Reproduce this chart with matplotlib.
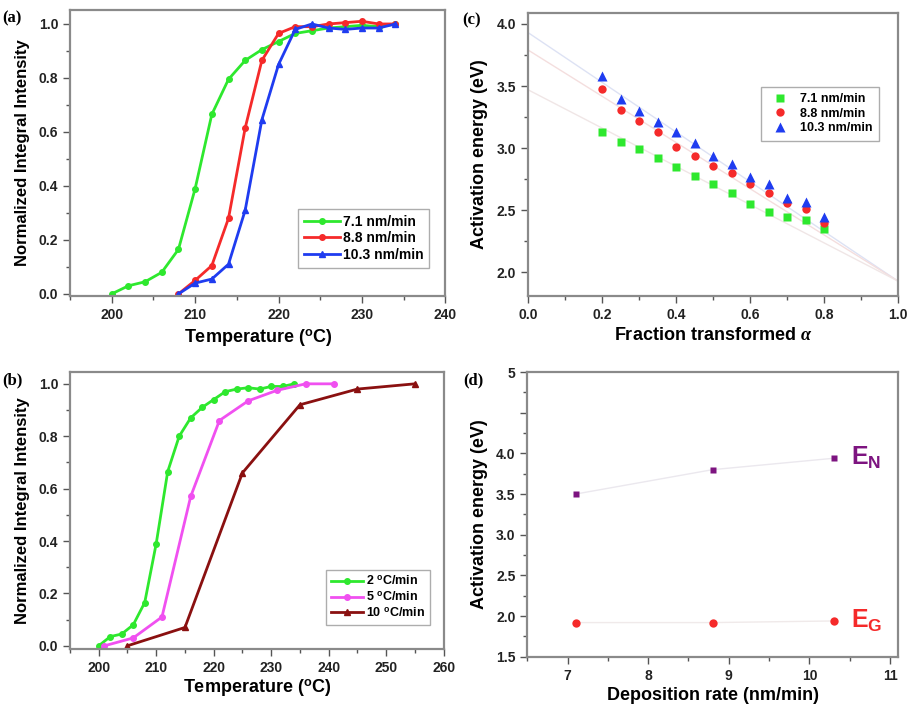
import matplotlib.pyplot as plt
import numpy as np
from matplotlib.ticker import AutoMinorLocator

plt.rcParams['font.family'] = ['Liberation Sans', 'DejaVu Sans']
plt.rcParams['font.weight'] = 'bold'
plt.rcParams['mathtext.fontset'] = 'custom'
plt.rcParams['mathtext.it'] = 'Liberation Serif:italic'
plt.rcParams['mathtext.rm'] = 'Liberation Sans'

# (a) intensity vs temperature for three deposition rates
temp_a = [200, 202, 204, 206, 208, 210, 212, 214, 216, 218, 220, 222, 224, 226, 228, 230, 232, 234]
int_71 = [0.0, 0.03, 0.045, 0.08, 0.165, 0.39, 0.665, 0.795, 0.865, 0.905, 0.935, 0.965, 0.975, 0.985,
          0.99, 0.995, 0.99, 1.0]
temp_a2 = [208, 210, 212, 214, 216, 218, 220, 222, 224, 226, 228, 230, 232, 234]
int_88 = [0.0, 0.05, 0.105, 0.28, 0.615, 0.865, 0.965, 0.99, 0.99, 1.0, 1.005, 1.01, 1.0, 1.0]
int_103 = [0.0, 0.04, 0.055, 0.11, 0.31, 0.645, 0.85, 0.98, 1.0, 0.985, 0.98, 0.985, 0.985, 1.0]

# (b) intensity vs temperature for three heating rates
temp_2 = [200, 202, 204, 206, 208, 210, 212, 214, 216, 218, 220, 222, 224, 226, 228, 230, 232, 234]
int_2 = [0.0, 0.035, 0.045, 0.08, 0.165, 0.39, 0.665, 0.8, 0.87, 0.91, 0.94, 0.97, 0.98, 0.985,
         0.98, 0.99, 0.99, 1.0]
temp_5 = [201, 206, 211, 216, 221, 226, 231, 236, 241]
int_5 = [0.0, 0.03, 0.11, 0.57, 0.86, 0.935, 0.975, 1.0, 1.0]
temp_10 = [205, 215, 225, 235, 245, 255]
int_10 = [0.0, 0.07, 0.66, 0.92, 0.98, 1.0]

# (c) activation energy vs fraction transformed
alpha = [0.2, 0.25, 0.3, 0.35, 0.4, 0.45, 0.5, 0.55, 0.6, 0.65, 0.7, 0.75, 0.8]
ea_71 = [3.13, 3.05, 2.99, 2.92, 2.85, 2.78, 2.71, 2.64, 2.55, 2.49, 2.45, 2.42, 2.35]
ea_88 = [3.48, 3.31, 3.22, 3.13, 3.01, 2.94, 2.86, 2.80, 2.71, 2.64, 2.56, 2.51, 2.40]
ea_103 = [3.58, 3.40, 3.30, 3.21, 3.13, 3.04, 2.94, 2.87, 2.77, 2.71, 2.60, 2.57, 2.45]
fit_x = [0.0, 1.0]
fit_71 = [3.47, 1.93]
fit_88 = [3.79, 1.93]
fit_103 = [3.93, 1.93]

# (d) activation energies vs deposition rate
rate = [7.1, 8.8, 10.3]
e_n = [3.50, 3.80, 3.94]
e_g = [1.92, 1.92, 1.94]

green = '#2ee82e'
red = '#f52a2a'
blue = '#1f3cf0'
magenta = '#f050f0'
brown = '#8a1010'
purple = '#7d1480'
frame = '#8a8a8a'


def style(ax):
    for s in ax.spines.values():
        s.set_color(frame)
        s.set_linewidth(1.6)
    ax.tick_params(which='both', direction='out', color='#555555', labelsize=10, width=1)
    ax.tick_params(which='major', length=5)
    ax.tick_params(which='minor', length=3)
    ax.xaxis.set_minor_locator(AutoMinorLocator(2))
    ax.yaxis.set_minor_locator(AutoMinorLocator(2))
    for lab in ax.get_xticklabels() + ax.get_yticklabels():
        lab.set_fontweight('bold')
        lab.set_color('#222222')


fig = plt.figure(figsize=(9.09, 7.10), dpi=100)

# panel (a)
ax = fig.add_axes([0.077, 0.583, 0.413, 0.403])
ax.plot(temp_a, int_71, '-o', color=green, lw=2, ms=4, label='7.1 nm/min')
ax.plot(temp_a2, int_88, '-o', color=red, lw=2, ms=4, label='8.8 nm/min')
ax.plot(temp_a2, int_103, '-^', color=blue, lw=2, ms=4, label='10.3 nm/min')
ax.set_xlim(195, 240)
ax.set_ylim(-0.008, 1.052)
ax.set_xticks([200, 210, 220, 230, 240])
ax.set_yticks([0.0, 0.2, 0.4, 0.6, 0.8, 1.0])
ax.set_xlabel('Temperature ($^{\\mathrm{o}}$C)', fontsize=13, fontweight='bold', labelpad=4)
ax.set_ylabel('Normalized Integral Intensity', fontsize=12, fontweight='bold', labelpad=6)
ax.legend(loc='lower right', bbox_to_anchor=(0.975, 0.075), frameon=True,
          fancybox=False, edgecolor='#999999', handlelength=2.6, handletextpad=0.2,
          borderpad=0.4, labelspacing=0.2, prop={'weight': 'bold', 'size': 10})
style(ax)
fig.text(0.002, 0.986, '(a)', family='Liberation Serif', fontweight='bold', fontsize=12, va='top')

# panel (c)
ax = fig.add_axes([0.581, 0.583, 0.407, 0.399])
ax.plot(fit_x, fit_103, '-', color='#dde2f4', lw=1, zorder=1)
ax.plot(fit_x, fit_88, '-', color='#f4dede', lw=1, zorder=1)
ax.plot(fit_x, fit_71, '-', color='#f0e6e6', lw=1, zorder=1)
ax.plot(alpha, ea_71, 's', color=green, ms=5.5, mec='none', label='7.1 nm/min')
ax.plot(alpha, ea_88, 'o', color=red, ms=6, mec='none', label='8.8 nm/min')
ax.plot(alpha, ea_103, '^', color=blue, ms=6.5, mec='none', label='10.3 nm/min')
ax.set_xlim(0.0, 1.0)
ax.set_ylim(1.81, 4.09)
ax.set_xticks([0.0, 0.2, 0.4, 0.6, 0.8, 1.0])
ax.set_yticks([2.0, 2.5, 3.0, 3.5, 4.0])
ax.set_xlabel('Fraction transformed $\\mathit{\\alpha}$', fontsize=13, fontweight='bold', labelpad=4)
ax.set_ylabel('Activation energy (eV)', fontsize=13, fontweight='bold', labelpad=6)
ax.legend(loc='upper right', bbox_to_anchor=(0.965, 0.76), frameon=True, fancybox=False,
          edgecolor='#999999', handletextpad=0.6, borderpad=0.5, labelspacing=0.2,
          prop={'weight': 'bold', 'size': 9})
style(ax)
fig.text(0.508, 0.982, '(c)', family='Liberation Serif', fontweight='bold', fontsize=12, va='top')

# panel (b)
ax = fig.add_axes([0.077, 0.086, 0.411, 0.390])
ax.plot(temp_2, int_2, '-o', color=green, lw=2, ms=4, label='2 $^{\\mathrm{o}}$C/min')
ax.plot(temp_5, int_5, '-o', color=magenta, lw=2, ms=4, label='5 $^{\\mathrm{o}}$C/min')
ax.plot(temp_10, int_10, '-^', color=brown, lw=2, ms=4, label='10 $^{\\mathrm{o}}$C/min')
ax.set_xlim(195, 260)
ax.set_ylim(-0.012, 1.045)
ax.set_xticks([200, 210, 220, 230, 240, 250, 260])
ax.set_yticks([0.0, 0.2, 0.4, 0.6, 0.8, 1.0])
ax.set_xlabel('Temperature ($^{\\mathrm{o}}$C)', fontsize=13, fontweight='bold', labelpad=2)
ax.set_ylabel('Normalized Integral Intensity', fontsize=12, fontweight='bold', labelpad=6)
ax.legend(loc='lower right', bbox_to_anchor=(0.98, 0.065), frameon=True, fancybox=False,
          edgecolor='#999999', handlelength=2.6, handletextpad=0.2, borderpad=0.4,
          labelspacing=0.2, prop={'weight': 'bold', 'size': 9})
style(ax)
fig.text(0.002, 0.476, '(b)', family='Liberation Serif', fontweight='bold', fontsize=12, va='top')

# panel (d)
ax = fig.add_axes([0.580, 0.075, 0.408, 0.401])
ax.plot(rate, e_n, '-', color='#ebe8ee', lw=1, zorder=1)
ax.plot(rate, e_g, '-', color='#f0eaea', lw=1, zorder=1)
ax.plot(rate, e_n, 's', color=purple, ms=5, mec='none')
ax.plot(rate, e_g, 'o', color=red, ms=6, mec='none')
ax.text(10.52, e_n[-1], '$\\mathregular{E_N}$', color=purple, fontsize=18, va='center')
ax.text(10.52, e_g[-1], '$\\mathregular{E_G}$', color=red, fontsize=18, va='center')
ax.set_xlim(6.5, 11.1)
ax.set_ylim(1.5, 5.0)
ax.set_xticks([7, 8, 9, 10, 11])
ax.set_yticks([1.5, 2.0, 2.5, 3.0, 3.5, 4.0, 4.5, 5.0])
ax.set_yticklabels(['1.5', '2.0', '2.5', '3.0', '3.5', '4.0', '', '5'])
ax.set_xlabel('Deposition rate (nm/min)', fontsize=13, fontweight='bold', labelpad=3)
ax.set_ylabel('Activation energy (eV)', fontsize=13, fontweight='bold', labelpad=6)
style(ax)
fig.text(0.51, 0.476, '(d)', family='Liberation Serif', fontweight='bold', fontsize=12, va='top')

plt.savefig('out.png', dpi=100)
